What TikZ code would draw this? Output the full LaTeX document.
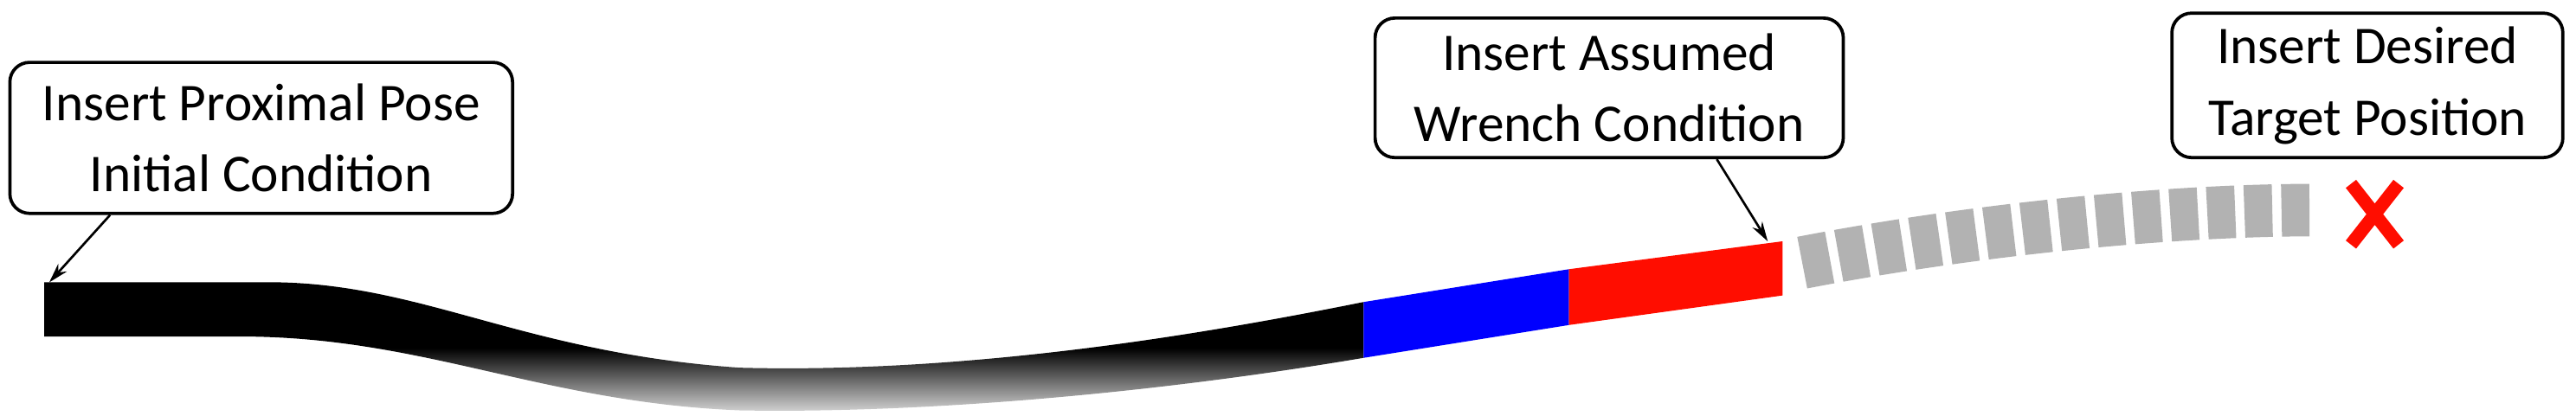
\documentclass[tikz,border=0pt]{standalone}
\usepackage{fontspec}
\setmainfont{Carlito}
\usetikzlibrary{arrows.meta}
\pgfdeclareverticalshading{tubeshade}{100bp}{color(0bp)=(white!85!black); color(25bp)=(white!85!black); color(50bp)=(black); color(100bp)=(black)}
\begin{document}
\begin{tikzpicture}[x=0.05cm,y=0.05cm,
  lbl/.style={draw=black,line width=2.8pt,rounded corners=0.6cm,align=center,inner sep=0pt,font=\fontsize{46}{62}\selectfont},
  ptr/.style={line width=2pt,-{Stealth[length=0.6cm,width=0.35cm]}}]
\useasboundingbox (0,0) rectangle (1568,-253);
% tube
\shade[shading=tubeshade]
 (27,-172) -- (170,-172) .. controls (260,-174) and (320,-215) .. (450,-224)
 .. controls (600,-228) and (750,-200) .. (830,-184) -- (830,-218)
 .. controls (700,-240) and (560,-252) .. (450,-250)
 .. controls (330,-245) and (260,-206) .. (150,-205) -- (27,-205) -- cycle;
\fill[blue] (830,-184) -- (955,-164) -- (955,-198) -- (830,-218) -- cycle;
\fill[red!90!orange] (955,-164) -- (1085,-147) -- (1085,-180) -- (955,-198) -- cycle;
\draw[gray!60,line width=1.6cm,dash pattern=on 0.85cm off 0.28cm]
 (1097,-160) .. controls (1200,-140) and (1320,-128) .. (1408,-128);
% red X
\draw[red!90!orange,line width=0.4cm] (1431,-112) -- (1460,-149) (1460,-112) -- (1431,-149);
% labels
\node[lbl,minimum width=15.3cm,minimum height=4.6cm] (b1) at (159,-84) {Insert Proximal Pose\\Initial Condition};
\node[lbl,minimum width=14.25cm,minimum height=4.25cm] (b2) at (979.5,-53.5) {Insert Assumed\\Wrench Condition};
\node[lbl,minimum width=11.9cm,minimum height=4.4cm] (b3) at (1441,-52) {Insert Desired\\Target Position};
\coordinate (t1) at (30,-172);
\coordinate (t2) at (1076,-147);
\draw[ptr] (b1.south -| 67,0) -- (t1);
\draw[ptr] (b2.south -| 1045,0) -- (t2);
\end{tikzpicture}
\end{document}
